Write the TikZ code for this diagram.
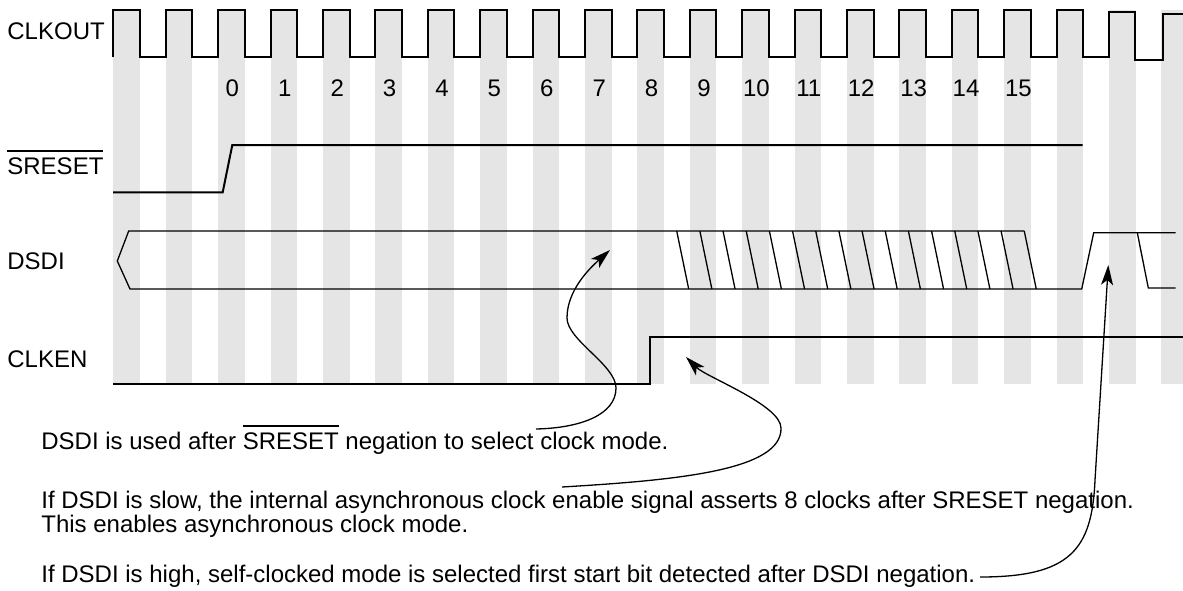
\documentclass[tikz,border=0pt]{standalone}
\usepackage{fontspec}
\setmainfont{Liberation Sans}
\usetikzlibrary{arrows.meta}

\newcommand{\barsig}[1]{\vbox{\hrule height 0.75pt\kern 2.8pt\hbox{#1}}}

\begin{document}
\begin{tikzpicture}[
    x=0.5pt, y=-0.5pt,
    >={Stealth[length=10pt, width=6pt, inset=2.5pt]},
    every node/.style={font=\fontsize{12}{12}\selectfont},
    wave/.style={line width=1pt},
    bus/.style={line width=0.65pt},
    stripe/.style={fill=gray!20},
    pointer/.style={->, line width=0.65pt},
    signame/.style={anchor=base west, inner sep=0pt},
    notetext/.style={anchor=base west, inner sep=0pt},
    count/.style={anchor=base, inner sep=0pt}
]
    \useasboundingbox (0,0) rectangle (1183,590);
    \clip (0,0) rectangle (1183,590);

    \foreach \k in {0,...,20}
        \fill[stripe] ({113.3+52.4*\k},10) rectangle ++(26.6,374);

    \draw[wave] (113.3,57.3)
        \foreach \k in {0,...,18} { -- ++(0,-47.3) -- ++(26.6,0) -- ++(0,47.3) -- ++(25.8,0) }
        -- ++(0,-45.3) -- ++(26.1,0) -- ++(0,48) -- ++(27.7,0) -- ++(0,-46) -- (1183,14);

    \foreach \n in {0,...,15}
        \node[count] (cnt\n) at ({127.6+52.4*(\n+2)},96) {\n};

    \draw[wave] (113,192.3) -- (222.7,192.3) -- (232.3,145) -- (1082.7,145);

    \draw[bus] (1024.3,231) -- (128.7,231) -- (117.3,261) -- (130,289) -- (1081.7,289)
        -- (1093.7,232.7) -- (1175.7,232.7);
    \draw[bus] (1137.3,232.7) -- (1148.3,288) -- (1175.7,288);
    \foreach \i in {0,...,15}
        \draw[bus] ({676.7+23.17*\i},231) -- ++(12,58);

    \draw[wave] (113,384.3) -- (649.5,384.3) -- (649.5,336.7) -- (1183,336.7);

    \node[signame] (lblclk) at (7,39) {CLKOUT};
    \node[signame] (lblsrst) at (7,174) {\barsig{SRESET}};
    \node[signame] (lbldsdi) at (7,269) {DSDI};
    \node[signame] (lblclken) at (7,367) {CLKEN};

    \node[notetext] (note1) at (41,449) {DSDI is used after \barsig{SRESET} negation to select clock mode.};
    \node[notetext] (note2) at (41,508) {If DSDI is slow, the internal asynchronous clock enable signal asserts 8 clocks after SRESET negation.};
    \node[notetext] (note2b) at (41,532) {This enables asynchronous clock mode.};
    \node[notetext] (note3) at (41,582) {If DSDI is high, self-clocked mode is selected first start bit detected after DSDI negation.};

    \coordinate (tail1) at (536,429);
    \coordinate (tip1) at (610,250);
    \draw[pointer] (tail1) .. controls (580,428) and (616,415) .. (616,388)
        .. controls (616,365) and (567,340) .. (567,318)
        .. controls (567,290) and (590,268) .. (tip1);

    \coordinate (tail2) at (562,487);
    \coordinate (tip2) at (686,357);
    \draw[pointer] (tail2) .. controls (680,480) and (782,470) .. (781,428)
        .. controls (781,405) and (706,377) .. (tip2);

    \coordinate (tail3) at (980,577);
    \coordinate (tip3) at (1108.3,265);
    \draw[pointer] (tail3) .. controls (1070,577) and (1092,550) .. (1095,480) -- (tip3);
\end{tikzpicture}
\end{document}
